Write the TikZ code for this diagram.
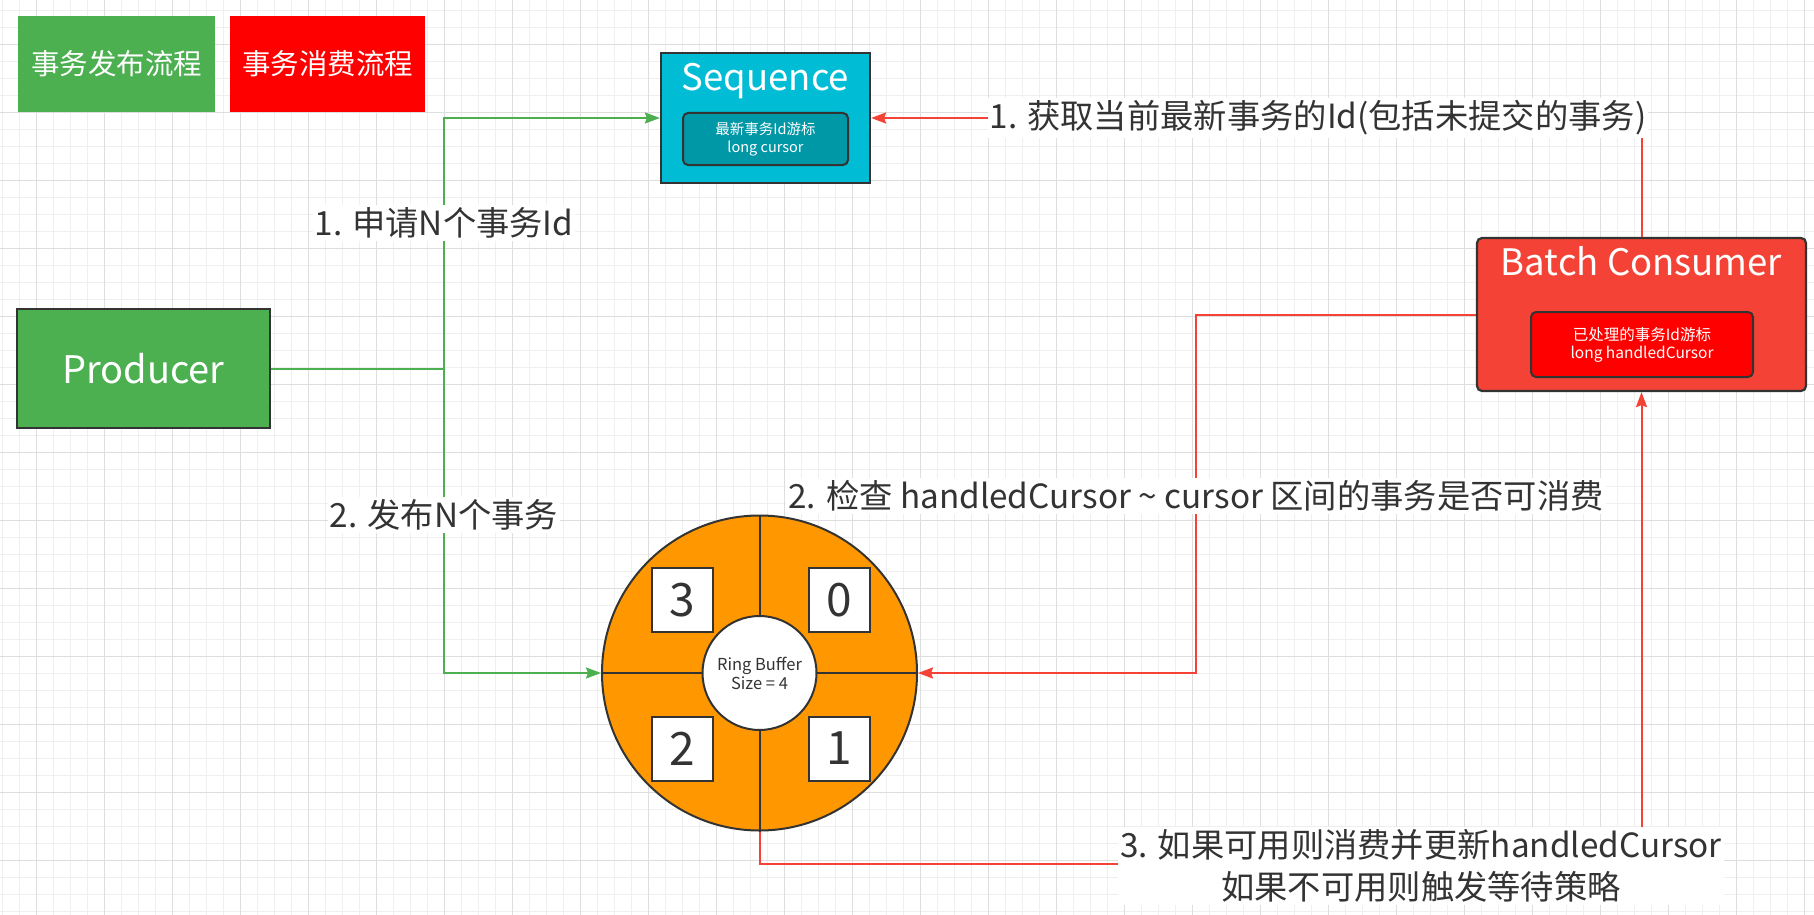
\documentclass[tikz,border=0pt]{standalone}
\usepackage{fontspec}
\setmainfont{Noto Sans CJK SC}
\usetikzlibrary{arrows.meta}
\definecolor{gminor}{HTML}{EFEFEF}
\definecolor{gmajor}{HTML}{DEDEDE}
\definecolor{txt}{HTML}{333333}
\definecolor{bord}{HTML}{333333}
\definecolor{pgreen}{HTML}{4CAF50}
\definecolor{pred}{HTML}{FF0000}
\definecolor{ccyan}{HTML}{00BCD4}
\definecolor{dcyan}{HTML}{0097A7}
\definecolor{cred}{HTML}{F44336}
\definecolor{orng}{HTML}{FF9800}
\definecolor{egreen}{HTML}{4CAF50}
\definecolor{ered}{HTML}{F44336}
\tikzset{
  legendbox/.style={draw=none, inner sep=0pt, text=white, font=\fontsize{28.5}{34}\selectfont},
  mainbox/.style={draw=bord, line width=2.2pt, inner sep=0pt},
  innerbox/.style={draw=bord, line width=2pt, rounded corners=5pt, inner sep=0pt, text=white, align=center, font=\fontsize{14.5}{17.6}\selectfont},
  titletext/.style={text=white, inner sep=0pt, font=\fontsize{36.5}{44}\selectfont},
  numbox/.style={draw=bord, line width=2pt, fill=white, minimum width=61pt, minimum height=64pt, inner sep=0pt, text=txt, font=\fontsize{46}{50}\selectfont},
  lbl/.style={fill=white, text=txt, inner xsep=2pt, inner ysep=3pt, align=center, font=\fontsize{33.3}{42}\selectfont},
  gline/.style={draw=egreen, line width=2pt, -{Stealth[length=15pt,width=11pt,inset=2pt]}},
  rline/.style={draw=ered, line width=2pt, -{Stealth[length=15pt,width=11pt,inset=2pt]}},
}
\begin{document}
\begin{tikzpicture}[x=1pt,y=-1pt]
\useasboundingbox (0,0) rectangle (1814,915);
\fill[white] (0,0) rectangle (1814,915);
% grid
\foreach \i in {0,...,106} { \draw[gminor, line width=1pt] ({2.3+17*\i},0) -- ({2.3+17*\i},915); }
\foreach \j in {0,...,53} { \draw[gminor, line width=1pt] (0,{10.3+17*\j}) -- (1814,{10.3+17*\j}); }
\foreach \i in {0,...,26} { \draw[gmajor, line width=1pt] ({36.3+68*\i},0) -- ({36.3+68*\i},915); }
\foreach \j in {0,...,13} { \draw[gmajor, line width=1pt] (0,{44.3+68*\j}) -- (1814,{44.3+68*\j}); }

% legend
\node[legendbox, fill=pgreen, minimum width=197pt, minimum height=96pt] (leg1) at (116.5,64) {事务发布流程};
\node[legendbox, fill=pred, minimum width=195pt, minimum height=96pt] (leg2) at (327.5,64) {事务消费流程};

% producer
\node[mainbox, fill=pgreen, minimum width=253pt, minimum height=119pt, text=white, font=\fontsize{38}{44}\selectfont] (producer) at (143.5,368.5) {Producer};

% sequence
\node[mainbox, fill=ccyan, minimum width=209pt, minimum height=130pt] (seq) at (765.5,118) {};
\node[titletext] (seqtitle) at (765.5,81) {Sequence};
\node[innerbox, fill=dcyan, minimum width=165pt, minimum height=52pt] (seqin) at (765.5,139) {最新事务Id游标\\long cursor};

% consumer
\node[mainbox, fill=cred, rounded corners=5pt, minimum width=329pt, minimum height=153pt] (cons) at (1641.5,314.5) {};
\node[titletext] (constitle) at (1641.5,261.5) {Batch Consumer};
\node[innerbox, fill=pred, minimum width=222pt, minimum height=65pt, font=\fontsize{15.5}{18}\selectfont] (consin) at (1642,344.5) {已处理的事务Id游标\\long handledCursor};

% ring buffer
\node[circle, draw=bord, line width=2pt, fill=orng, minimum size=315pt, inner sep=0pt] (ring) at (759.5,673) {};
\draw[bord, line width=2pt] (ring.north) -- (ring.south);
\draw[bord, line width=2pt] (ring.west) -- (ring.east);
\node[circle, draw=bord, line width=2pt, fill=white, minimum size=114pt, inner sep=0pt, text=txt, align=center, font=\fontsize{16.5}{19}\selectfont] (core) at (759.5,673) {Ring Buffer\\Size = 4};
\node[numbox] (n3) at (682.5,600) {3};
\node[numbox] (n0) at (839.5,600) {0};
\node[numbox] (n2) at (682.5,748.5) {2};
\node[numbox] (n1) at (839.5,748.5) {1};

% connectors
\coordinate (gsplit) at (444,368.5);
\coordinate (rturn) at (1196,314.5);
\coordinate (rbottom) at (759.5,864);
\draw[gline] (producer.east) -- (gsplit) |- (seq.west);
\draw[gline] (producer.east) -- (gsplit) |- (ring.west);
\draw[rline] (cons.north) |- (seq.east);
\draw[rline] (cons.west) -- (rturn) |- (ring.east);
\draw[rline] (ring.south) -- (rbottom) -| (cons.south);

% labels
\node[lbl] (l1) at (444,223) {1. 申请N个事务Id};
\node[lbl] (l2) at (444,515) {2. 发布N个事务};
\node[lbl] (l3) at (1318,118) {1. 获取当前最新事务的Id(包括未提交的事务)};
\node[lbl] (l4) at (1196,496) {2. 检查 handledCursor \textasciitilde{} cursor 区间的事务是否可消费};
\node[lbl] (l5) at (1421,866) {3. 如果可用则消费并更新handledCursor\\如果不可用则触发等待策略};
\end{tikzpicture}
\end{document}
